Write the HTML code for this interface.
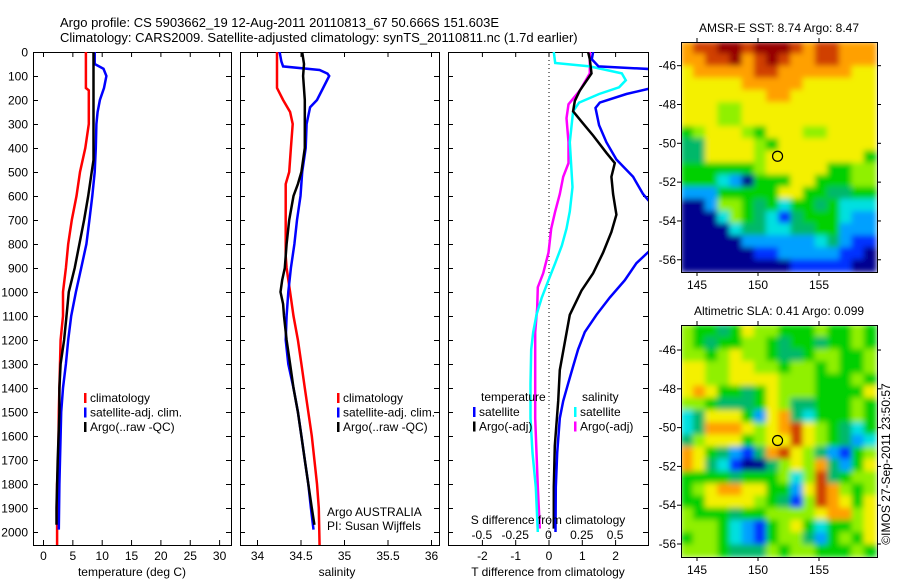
<!DOCTYPE html>
<html><head><meta charset="utf-8"><style>
html,body{margin:0;padding:0;background:#fff;}
svg{display:block;font-family:"Liberation Sans",sans-serif;}
</style></head><body>
<svg id="c" width="900" height="580" viewBox="0 0 900 580">
<defs>
<clipPath id="cp1"><rect x="33" y="52" width="198" height="493"/></clipPath>
<clipPath id="cp2"><rect x="240" y="52" width="199" height="493"/></clipPath>
<clipPath id="cp3"><rect x="448" y="52" width="200" height="493"/></clipPath>
<clipPath id="cm1"><rect x="681" y="42" width="196" height="230"/></clipPath>
<clipPath id="cm2"><rect x="681" y="325" width="196" height="232"/></clipPath>
<filter id="bl" filterUnits="userSpaceOnUse" x="660" y="20" width="240" height="560"><feGaussianBlur stdDeviation="3"/></filter>
</defs>
<text x="60" y="27" font-size="13">Argo profile: CS 5903662_19 12-Aug-2011 20110813_67 50.666S 151.603E</text>
<text x="60" y="42" font-size="13">Climatology: CARS2009. Satellite-adjusted climatology: synTS_20110811.nc (1.7d earlier)</text>
<g id="g"></g>
</svg>
<script>
// ---- data ----
const depthTicks=[0,100,200,300,400,500,600,700,800,900,1000,1100,1200,1300,1400,1500,1600,1700,1800,1900,2000];
const tempTicks=[0,5,10,15,20,25,30];
const salTicks=[34,34.5,35,35.5,36];
const tdiffTicks=[-2,-1,0,1,2];
const sdiffTickLabels=["-0.5","-0.25","0","0.25","0.5"];
const sdiffTicks=[-0.5,-0.25,0,0.25,0.5];
// temperature panel
const tClimDepth=[0,150,160,300,400,500,600,700,800,900,1000,1100,1200,1300,1500,1700,1800,2060];
const tClimVal=[7.3,7.3,7.8,7.8,7.2,6.3,5.7,4.9,4.3,3.9,3.4,3.4,3.0,2.9,2.7,2.6,2.4,2.4];
const tSatDepth=[0,50,70,100,150,200,250,300,400,500,600,700,800,900,1000,1100,1200,1300,1400,1500,1600,1800,1990];
const tSatVal=[8.8,8.8,10.3,10.8,10.4,9.7,9.3,9.1,9.0,8.8,8.4,7.9,7.4,6.5,5.6,4.8,4.3,3.9,3.4,3.1,3.0,2.8,2.7];
const tArgoDepth=[0,450,500,600,700,800,900,1000,1100,1200,1300,1400,1500,1700,1900,1970];
const tArgoVal=[8.6,8.6,8.3,7.7,7.0,6.2,5.4,4.4,4.0,3.6,3.0,2.8,2.8,2.5,2.3,2.3];
// salinity panel
const sClimDepth=[0,150,200,250,300,400,500,550,850,900,1000,1100,1200,1300,1400,1500,1600,1700,1800,1900,2060];
const sClimVal=[34.23,34.23,34.30,34.38,34.41,34.39,34.37,34.33,34.33,34.34,34.38,34.42,34.47,34.51,34.55,34.59,34.63,34.66,34.69,34.71,34.72];
const sSatDepth=[0,40,60,75,90,100,150,200,230,300,400,500,600,700,800,900,1000,1100,1200,1300,1400,1500,1600,1700,1800,1900,1990];
const sSatVal=[34.26,34.28,34.30,34.72,34.81,34.83,34.76,34.69,34.61,34.57,34.56,34.52,34.50,34.46,34.43,34.39,34.36,34.34,34.33,34.36,34.42,34.47,34.51,34.55,34.59,34.62,34.65];
const sArgoDepth=[0,50,100,200,400,500,550,600,700,800,900,950,1000,1050,1100,1200,1300,1400,1500,1600,1700,1800,1900,1970];
const sArgoVal=[34.52,34.54,34.53,34.55,34.55,34.51,34.47,34.42,34.37,34.34,34.32,34.29,34.27,34.30,34.31,34.34,34.38,34.42,34.47,34.51,34.55,34.59,34.63,34.66];
// difference panel
const dTSatDepth=[0,30,60,72,147,175,211,233,305,376,448,520,592,650,807,880,951,1023,1095,1167,1239,1310,1382,1454,1526,1670,1813,2000];
const dTSatVal=[1.34,1.3,1.5,3.2,3.2,2.34,1.54,1.41,1.52,1.74,2.04,2.54,2.84,3.2,3.2,2.64,2.29,1.84,1.44,1.09,0.89,0.74,0.59,0.44,0.34,0.26,0.22,0.21];
const dTArgoDepth=[0,30,89,161,204,247,290,348,420,463,520,592,678,750,836,922,994,1095,1210,1325,1454,1641,1813,1986];
const dTArgoVal=[1.19,1.24,1.29,0.94,0.79,0.74,0.99,1.34,1.74,1.99,1.89,1.94,2.04,1.89,1.64,1.34,0.99,0.64,0.49,0.34,0.29,0.19,0.16,0.16];
const dSSatDepth=[0,46,60,89,118,147,175,211,247,376,563,664,736,807,880,951,1023,1095,1167,1239,1382,1526,1670,1813,2000];
const dSSatVal=[0.04,0.05,0.31,0.55,0.58,0.53,0.38,0.23,0.185,0.16,0.18,0.16,0.135,0.1,0.05,0,-0.05,-0.09,-0.115,-0.13,-0.135,-0.135,-0.12,-0.095,-0.08];
const dSArgoDepth=[0,89,161,218,276,376,463,520,592,664,736,836,922,980,1066,1167,1382,1526,1670,1813,1986];
const dSArgoVal=[0.31,0.31,0.235,0.15,0.135,0.15,0.15,0.11,0.085,0.05,0.02,0,-0.04,-0.08,-0.085,-0.1,-0.1,-0.1,-0.09,-0.08,-0.065];
// maps
const lonTicks=[145,150,155];
const latTicks=[-46,-48,-50,-52,-54,-56];
const argoLon=151.603, argoLat=-50.666;
const sstTitle="AMSR-E SST: 8.74  Argo: 8.47";
const slaTitle="Altimetric SLA: 0.41  Argo: 0.099";
const sstGrid=[
"899aa9aaa9899888","8899a89a98899888","7888889988888877","7777788888777777","7777777887777777",
"7776677777777777","7776677777777777","5677765777667777","4477776577777777","4477776777777775",
"5555556777775566","5553205557755566","2225555577554455","0026654535545333","0003654314555322",
"0000344334455222","0000022222234211","0000001122222110","0000000001111100"];
const slaGrid=[
"6554576655565565","6545566545545565","6656766544566556","7766776656656556","7766777766655565",
"7875545766655557","6654445764455565","3477752784355565","3488876789765435","4677756779765423",
"8754214897642156","8743100467684257","5555455563694566","5678877552798656","5577776541698757",
"6555455666678867","6665321567535567","5665321566425657","6665444656655565"];
const palette={"0":"#00008f","1":"#0030ff","2":"#00a0ff","3":"#00e0e0","4":"#00b86a","5":"#00d000","6":"#90f000","7":"#f4f000","8":"#ffa000","9":"#d04000","a":"#960000"};

// ---- drawing ----
const NS="http://www.w3.org/2000/svg";
const G=document.getElementById('g');
function el(tag,attrs,parent,txt){const e=document.createElementNS(NS,tag);for(const k in attrs)e.setAttribute(k,attrs[k]);if(txt!==undefined)e.textContent=txt;(parent||G).appendChild(e);return e;}
const yD=d=>52+0.24*d;
const xT=t=>43+5.87*t;
const xS=s=>257+87*(s-34);
const xDT=t=>548.5+33.3*t;
const xDS=s=>548.5+133.2*s;

function frame(x,y,w,h,name){const r=el('rect',{x:x+.5,y:y+.5,width:w,height:h,fill:'none',stroke:'#000','stroke-width':1});}
function depthTickMarks(x0,x1,labels){
  depthTicks.forEach(d=>{const y=yD(d)+.5;
    el('line',{x1:x0,y1:y,x2:x0+5,y2:y,stroke:'#000'});
    el('line',{x1:x1-5,y1:y,x2:x1,y2:y,stroke:'#000'});
    if(labels){const t=el('text',{x:28,y:y+4,'font-size':12,'text-anchor':'end'},G,String(d));}
  });
}
function xTicks(vals,fx,labs,ly,name){vals.forEach((v,i)=>{const x=fx(v)+.5;
  el('line',{x1:x,y1:545,x2:x,y2:540,stroke:'#000'});el('line',{x1:x,y1:52,x2:x,y2:57,stroke:'#000'});
  const t=el('text',{x:x,y:ly,'font-size':12,'text-anchor':'middle'},G,labs[i]);});}
function line(ds,vs,fx,color,clip,name,w){
  const pts=ds.map((d,i)=>fx(vs[i]).toFixed(1)+','+yD(d).toFixed(1)).join(' ');
  const p=el('polyline',{points:pts,fill:'none',stroke:color,'stroke-width':w||2.5,'clip-path':'url(#'+clip+')','stroke-linejoin':'miter'});
  }
function legend(x,y,items,name){items.forEach((it,i)=>{
  el('rect',{x:x,y:y+i*14.5-9,width:2.5,height:10,fill:it[1]});
  const t=el('text',{x:x+6,y:y+i*14.5,'font-size':12},G,it[0]);});}

// panel 1
frame(33,52,198,493,'temperature-panel');
depthTickMarks(33,231,true);
xTicks(tempTicks,xT,tempTicks.map(String),560,'temperature-tick-label');
line(tClimDepth,tClimVal,xT,'#ff0000','cp1','temp-climatology-line');
line(tSatDepth,tSatVal,xT,'#0000ff','cp1','temp-satellite-line');
line(tArgoDepth,tArgoVal,xT,'#000000','cp1','temp-argo-line');
legend(84,402,[['climatology','#f00'],['satellite-adj. clim.','#00f'],['Argo(..raw -QC)','#000']],'temp-legend-entry');
let t=el('text',{x:132,y:576,'font-size':12,'text-anchor':'middle'},G,'temperature (deg C)');

// panel 2
frame(240,52,199,493,'salinity-panel');
depthTickMarks(240,439,false);
xTicks(salTicks,xS,salTicks.map(String),560,'salinity-tick-label');
line(sClimDepth,sClimVal,xS,'#ff0000','cp2','sal-climatology-line');
line(sSatDepth,sSatVal,xS,'#0000ff','cp2','sal-satellite-line');
line(sArgoDepth,sArgoVal,xS,'#000000','cp2','sal-argo-line');
legend(337,402,[['climatology','#f00'],['satellite-adj. clim.','#00f'],['Argo(..raw -QC)','#000']],'sal-legend-entry');
t=el('text',{x:327,y:516,'font-size':12},G,'Argo AUSTRALIA');
t=el('text',{x:327,y:530,'font-size':12},G,'PI: Susan Wijffels');
t=el('text',{x:337,y:576,'font-size':12,'text-anchor':'middle'},G,'salinity');

// panel 3
frame(448,52,200,493,'difference-panel');
depthTickMarks(448,648,false);
xTicks(tdiffTicks,xDT,tdiffTicks.map(String),560,'tdiff-tick-label');
el('line',{x1:xDT(0)+.5,y1:52,x2:xDT(0)+.5,y2:545,stroke:'#000','stroke-dasharray':'1,3'});
line(dSArgoDepth,dSArgoVal,xDS,'#ff00ff','cp3','sdiff-argo-line');
line(dSSatDepth,dSSatVal,xDS,'#00ffff','cp3','sdiff-satellite-line');
line(dTArgoDepth,dTArgoVal,xDT,'#000000','cp3','tdiff-argo-line');
line(dTSatDepth,dTSatVal,xDT,'#0000ff','cp3','tdiff-satellite-line');
t=el('text',{x:481,y:401,'font-size':12},G,'temperature');
t=el('text',{x:582,y:401,'font-size':12},G,'salinity');
legend(473,416,[['satellite','#00f'],['Argo(-adj)','#000']],'tdiff-legend-entry');
legend(574,416,[['satellite','#0ff'],['Argo(-adj)','#f0f']],'sdiff-legend-entry');
t=el('text',{x:548,y:524,'font-size':12,'text-anchor':'middle'},G,'S difference from climatology');
sdiffTicks.forEach((v,i)=>{const tt=el('text',{x:xDS(v),y:539,'font-size':12,'text-anchor':'middle'},G,sdiffTickLabels[i]);});
t=el('text',{x:548,y:576,'font-size':12,'text-anchor':'middle'},G,'T difference from climatology');

// maps
function drawMap(grid,top,bot,latTop,latBot,clip,title,name){
  const lonL=143.7,lonR=159.7;
  const xL=lon=>697+12.2*(lon-145);
  const yL=lat=>top+(bot-top)*(lat-latTop)/(latBot-latTop);
  const g=el('g',{'clip-path':'url(#'+clip+')'});
  const gi=el('g',{filter:'url(#bl)'},g);
  
  const rows=grid.length,cols=grid[0].length,dLat=(latBot-latTop)/rows,dLon=(lonR-lonL)/cols;
  for(let r=0;r<rows;r++)for(let c=0;c<cols;c++){
    const x0=xL(lonL+c*dLon),x1=xL(lonL+(c+1)*dLon),y0=yL(latTop+r*dLat),y1=yL(latTop+(r+1)*dLat);
    const cell=el('rect',{x:x0-0.5,y:y0-0.5,width:x1-x0+1,height:y1-y0+1,fill:palette[grid[r][c]]},gi);
    
    
  }
  frame(681,top,196,bot-top,name+'-frame');
  lonTicks.forEach(l=>{const x=xL(l);el('line',{x1:x,y1:bot,x2:x,y2:bot+4,stroke:'#000'});el('line',{x1:x,y1:top,x2:x,y2:top-4,stroke:'#000'});
    const tt=el('text',{x:x,y:bot+17,'font-size':12,'text-anchor':'middle'},G,String(l));});
  latTicks.forEach(l=>{const y=yL(l);el('line',{x1:677,y1:y,x2:681,y2:y,stroke:'#000'});el('line',{x1:877,y1:y,x2:881,y2:y,stroke:'#000'});
    const tt=el('text',{x:676,y:y+4,'font-size':12,'text-anchor':'end'},G,String(l));});
  const m=el('circle',{cx:xL(argoLon),cy:yL(argoLat),r:5,fill:'none',stroke:'#000','stroke-width':1.2});
  
  const tt=el('text',{x:779,y:top-10,'font-size':12,'text-anchor':'middle'},G,title);
}
drawMap(sstGrid,42,272,-44.78,-56.63,'cm1',sstTitle,'sst-map');
drawMap(slaGrid,325,557,-44.71,-56.67,'cm2',slaTitle,'sla-map');
t=el('text',{x:0,y:0,'font-size':12,'text-anchor':'middle',transform:'translate(890,464) rotate(-90)'},G,'\u00A9IMOS 27-Sep-2011 23:50:57');


</script>
</body></html>
